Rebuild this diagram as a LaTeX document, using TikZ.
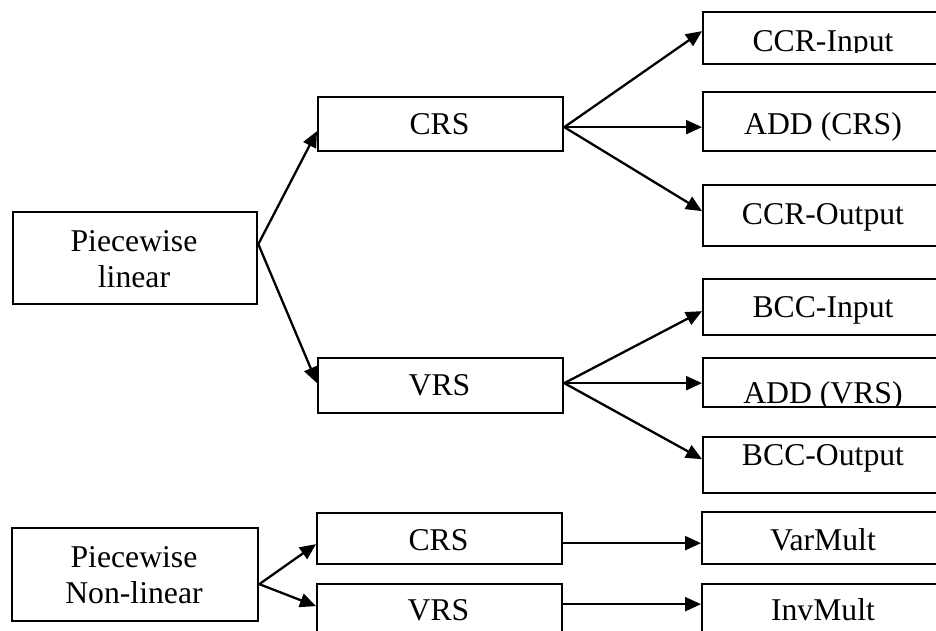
\documentclass[tikz,border=0pt]{standalone}
\usepackage{fontspec}
\setmainfont{Liberation Serif}
\usetikzlibrary{arrows.meta,calc}
\begin{document}
\begin{tikzpicture}[x=1pt,y=-1pt,
  box/.style={draw,line width=2.3pt,rectangle,inner sep=0pt,anchor=north west},
  lbl/.style={anchor=base,inner sep=0pt,font=\fontsize{31.7}{36}\selectfont},
  conn/.style={line width=2.3pt,-{Triangle[length=16pt,width=14pt]}}]
\useasboundingbox (0,0) rectangle (936,631);

% boxes: top-left corner, width, height
\node[box,minimum width=244pt,minimum height=92pt] (pl)     at (12,211)  {};
\node[box,minimum width=245pt,minimum height=54pt] (crsA)   at (317,96)  {};
\node[box,minimum width=245pt,minimum height=55pt] (vrsA)   at (317,357) {};
\node[box,minimum width=250pt,minimum height=52pt] (ccrin)  at (702,11)  {};
\node[box,minimum width=250pt,minimum height=59pt] (addc)   at (702,91)  {};
\node[box,minimum width=250pt,minimum height=61pt] (ccrout) at (702,184) {};
\node[box,minimum width=250pt,minimum height=56pt] (bccin)  at (702,278) {};
\node[box,minimum width=250pt,minimum height=49pt] (addv)   at (702,357) {};
\node[box,minimum width=250pt,minimum height=56pt] (bccout) at (702,436) {};
\node[box,minimum width=246pt,minimum height=93pt] (pn)     at (11,527)  {};
\node[box,minimum width=245pt,minimum height=51pt] (crsB)   at (316,512) {};
\node[box,minimum width=245pt,minimum height=77pt] (vrsB)   at (316,583) {};
\node[box,minimum width=250pt,minimum height=52pt] (varm)   at (701,511) {};
\node[box,minimum width=250pt,minimum height=77pt] (invm)   at (701,583) {};

% labels
\node[lbl] at (134,251) {Piecewise};
\node[lbl] at (134,287) {linear};
\node[lbl] at (439.5,135) {CRS};
\node[lbl] at (439.5,395) {VRS};
\begin{scope}
  \clip (700,11) rectangle (950,53);
  \node[lbl] at (823,52) {CCR-Input};
\end{scope}
\node[lbl] at (823,135) {ADD (CRS)};
\node[lbl] at (823,224) {CCR-Output};
\node[lbl] at (823,317) {BCC-Input};
\begin{scope}
  \clip (700,357) rectangle (950,405);
  \node[lbl] at (823,403) {ADD (VRS)};
\end{scope}
\node[lbl] at (823,465) {BCC-Output};
\node[lbl] at (134,567) {Piecewise};
\node[lbl] at (134,603) {Non-linear};
\node[lbl] at (438.5,550) {CRS};
\node[lbl] at (438.5,620) {VRS};
\node[lbl] at (823,550) {VarMult};
\node[lbl] at (823,620) {InvMult};

% connectors
\draw[conn] ($(pl.east)+(0,-14)$) -- ($(crsA.west)+(0,7)$);
\draw[conn] ($(pl.east)+(0,-14)$) -- ($(vrsA.west)+(0,-2.5)$);
\draw[conn] ($(crsA.east)+(0,3)$) -- ($(ccrin.west)+(0,-7)$);
\draw[conn] ($(crsA.east)+(0,3)$) -- ($(addc.west)+(0,5.5)$);
\draw[conn] ($(crsA.east)+(0,3)$) -- ($(ccrout.west)+(0,-4.5)$);
\draw[conn] ($(vrsA.east)+(0,-2.5)$) -- ($(bccin.west)+(0,4)$);
\draw[conn] ($(vrsA.east)+(0,-2.5)$) -- ($(addv.west)+(0,0.5)$);
\draw[conn] ($(vrsA.east)+(0,-2.5)$) -- ($(bccout.west)+(0,-6)$);
\draw[conn] ($(pn.east)+(0,9.5)$) -- ($(crsB.west)+(0,5.5)$);
\draw[conn] ($(pn.east)+(0,9.5)$) -- ($(vrsB.west)+(0,-16.5)$);
\draw[conn] ($(crsB.east)+(0,4.5)$) -- ($(varm.west)+(0,5)$);
\draw[conn] ($(vrsB.east)+(0,-18.5)$) -- ($(invm.west)+(0,-18.5)$);
\end{tikzpicture}
\end{document}
